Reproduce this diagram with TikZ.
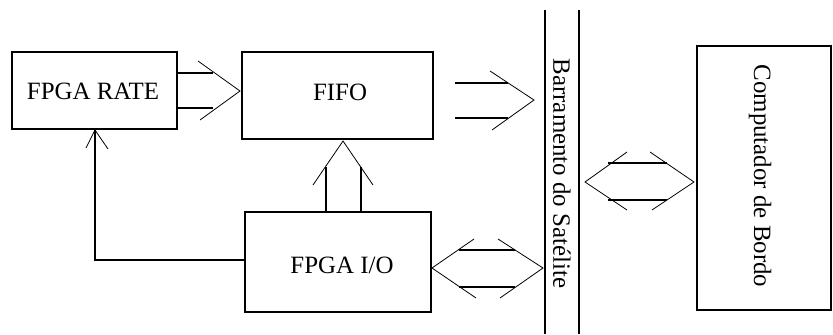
\documentclass[tikz,border=0pt]{standalone}
\usepackage{fontspec}
\setmainfont{Liberation Serif}
\begin{document}
\begin{tikzpicture}[x=1bp,y=-1bp,
  box/.style={draw,line width=1.2bp,inner sep=0pt},
  wire/.style={line width=1.2bp},
  wing/.style={line width=0.8bp},
  lbl/.style={font=\fontsize{25}{25}\selectfont,inner sep=0pt}]
\useasboundingbox (0,0) rectangle (833,334);
% boxes
\node[box,minimum width=165bp,minimum height=77bp] (rate) at (94.5,90.5) {};
\node[lbl] at (93,91.5) {FPGA RATE};
\node[box,minimum width=191bp,minimum height=87bp] (fifo) at (337.5,95.5) {};
\node[lbl] at (340,92.5) {FIFO};
\node[box,minimum width=186bp,minimum height=100bp] (io) at (338,262) {};
\node[lbl] at (342,265.5) {FPGA I/O};
\node[box,minimum width=134bp,minimum height=264bp] (comp) at (764,178) {};
\node[lbl,rotate=-90] at (760,176) {Computador de Bordo};
% bus
\coordinate (busLt) at (545,10); \coordinate (busLb) at (545,334);
\coordinate (busRt) at (579,10); \coordinate (busRb) at (579,334);
\draw[wire] (busLt) -- (busLb);
\draw[wire] (busRt) -- (busRb);
\node[lbl,rotate=-90] (bus) at (562,173.5) {Barramento do Satélite};
% FPGA RATE -> FIFO
\draw[wire] (rate.east |- 0,73) -- (213,73);
\draw[wire] (rate.east |- 0,108) -- (213,108);
\draw[wing] (198,61) -- (240,91) -- (200,120);
% FIFO -> bus
\draw[wire] (455,83) -- (508,83);
\draw[wire] (455,118) -- (508,118);
\draw[wing] (490,71) -- (534,100) -- (492,130);
% FPGA I/O -> FIFO
\draw[wire] (io.north -| 326,0) -- (326,167);
\draw[wire] (io.north -| 361,0) -- (361,167);
\draw[wing] (313,185) -- (343,141) -- (373,185);
% FPGA I/O -> FPGA RATE
\draw[wire] (io.west |- 0,260) -- (95,260) -- (rate.south -| 95,0);
\draw[wing] (86,148) -- (95,130) -- (108,149);
% FPGA I/O <-> bus
\draw[wire] (459,250) -- (515,250);
\draw[wire] (459,287) -- (515,287);
\draw[wing] (474,239) -- (432,268) -- (476,298);
\draw[wing] (498,239) -- (543,268) -- (500,298);
% bus <-> computer
\draw[wire] (608,163) -- (667,163);
\draw[wire] (608,200) -- (667,200);
\draw[wing] (627,152) -- (585,182) -- (627,210);
\draw[wing] (650,152) -- (694,182) -- (652,210);
\end{tikzpicture}
\end{document}
